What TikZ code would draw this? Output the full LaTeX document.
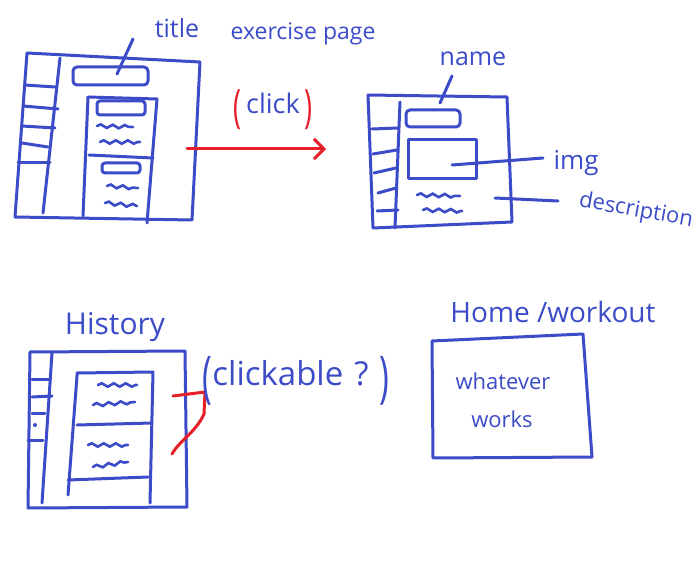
\documentclass[tikz,border=0pt]{standalone}
\usepackage{fontspec}
\setmainfont{Open Sans}
\usetikzlibrary{arrows.meta,decorations.pathmorphing}
\definecolor{pen}{RGB}{60,75,200}
\definecolor{redpen}{RGB}{230,30,40}
\tikzset{
 ink/.style={draw=pen, line width=3pt, line cap=round, line join=round},
 redink/.style={draw=redpen, line width=3pt, line cap=round, line join=round},
 wave/.style={draw=pen, line width=2.6pt, line cap=round, decorate, decoration={snake, amplitude=1.7pt, segment length=12pt}},
 lbl/.style={text=pen, inner sep=0pt},
}
\newcommand{\tallparen}[1]{\raisebox{-0.35em}{\scalebox{1}[1.7]{#1}}}
\begin{document}
\begin{tikzpicture}[x=1pt,y=-1pt]
\useasboundingbox[fill=white] (0,0) rectangle (696,564);

% ---------------- Screen 1 : list page ----------------
\draw[ink] (27,53) -- (200,62) -- (192,220) -- (15,217) -- cycle;
\draw[ink] (60,58) -- (43,213);
\draw[ink] (25,85) -- (55,87);
\draw[ink] (23,106) -- (58,109);
\draw[ink] (22,126) -- (55,128);
\draw[ink] (22,143) -- (48,147);
\draw[ink] (18,163) -- (50,163);
\draw[ink, rounded corners=4pt] (73,67) rectangle (148,85);
\draw[ink] (88,97) -- (157,99) -- (147,223);
\draw[ink] (88,97) -- (83,216);
\draw[ink] (89,155) -- (153,158);
\draw[ink, rounded corners=3pt] (97,101) rectangle (145,115);
\draw[wave] (97,126) -- (133,127);
\draw[wave] (100,142) -- (140,142);
\draw[ink, rounded corners=3pt] (102,163) rectangle (140,173);
\draw[wave] (107,186) -- (138,188);
\draw[wave] (105,203) -- (137,206);

\node[lbl, font=\fontsize{25}{25}\selectfont] (title) at (177,28) {title};
\coordinate (titleA) at (133,39);
\coordinate (titleB) at (117,74);
\draw[ink] (titleA) -- (titleB);

\node[lbl, font=\fontsize{23}{23}\selectfont] (exlbl) at (303,34) {exercise page};

% arrow with (click)
\coordinate (arrS) at (187,149);
\coordinate (arrE) at (326,149);
\draw[redink, -{Straight Barb[length=10pt,width=20pt]}] (arrS) -- (arrE);
\node[lbl, font=\fontsize{27}{27}\selectfont] (click) at (273,110)
  {\textcolor{redpen}{\tallparen{(}}\,click\,\textcolor{redpen}{\tallparen{)}}};

% ---------------- Screen 2 : exercise page ----------------
\draw[ink] (368,95) -- (507,97) -- (512,222) -- (373,228) -- cycle;
\draw[ink] (400,102) -- (395,228);
\draw[ink] (372,129) -- (398,128);
\draw[ink] (373,154) -- (397,150);
\draw[ink] (374,173) -- (396,168);
\draw[ink] (378,193) -- (396,188);
\draw[ink] (377,211) -- (398,210);
\draw[ink, rounded corners=4pt] (406,110) rectangle (460,127);
\draw[ink] (408,140) rectangle (476,179);
\draw[wave] (417,195) -- (460,196);
\draw[wave] (423,210) -- (462,211);

\node[lbl, font=\fontsize{25}{25}\selectfont] (name) at (473,59) {name};
\coordinate (nameA) at (452,76);
\coordinate (nameB) at (440,103);
\draw[ink] (nameA) -- (nameB);

\node[lbl, font=\fontsize{26}{26}\selectfont, anchor=base] (img) at (576,170) {img};
\coordinate (imgA) at (452,165);
\coordinate (imgB) at (543,158);
\draw[ink] (imgA) -- (imgB);

\node[lbl, font=\fontsize{22}{22}\selectfont, rotate=-10] (desc) at (636,211) {description};
\coordinate (descA) at (495,198);
\coordinate (descB) at (558,201);
\draw[ink] (descA) -- (descB);

% ---------------- Screen 3 : history ----------------
\node[lbl, font=\fontsize{30}{30}\selectfont] (hist) at (115,327) {History};
\draw[ink] (30,352) -- (185,351) -- (187,507) -- (28,508) -- cycle;
\draw[ink] (52,353) -- (42,503);
\draw[ink] (32,379) -- (50,379);
\draw[ink] (32,397) -- (52,396);
\draw[ink] (32,413) -- (45,413);
\draw[ink] (28,440) -- (43,440);
\fill[pen] (35,425) circle (2pt);
\draw[ink] (77,376) -- (77,373) -- (153,372) -- (150,503);
\draw[ink] (77,376) -- (68,495);
\draw[ink] (77,425) -- (152,423);
\draw[ink] (68,480) -- (148,477);
\draw[wave] (98,385) -- (137,385);
\draw[wave] (93,405) -- (135,402);
\draw[wave] (88,445) -- (128,445);
\draw[wave] (93,467) -- (128,462);

\coordinate (brA) at (173,396);
\coordinate (brB) at (172,454);
\draw[redink] (brA) -- (205,392) -- (204,414) .. controls (196,432) and (180,440) .. (brB);

\node[lbl, font=\fontsize{33}{33}\selectfont] (clickable) at (296,381)
  {\tallparen{(}clickable\,\,?\,\,\tallparen{)}};

% ---------------- Screen 4 : home / workout ----------------
\node[lbl, font=\fontsize{28}{28}\selectfont] (home) at (553,312) {Home /workout};
\draw[ink] (432,341) -- (583,334) -- (592,457) -- (433,458) -- cycle;
\node[lbl, font=\fontsize{22}{22}\selectfont] (what) at (503,381) {whatever};
\node[lbl, font=\fontsize{22}{22}\selectfont] (works) at (502,419) {works};
\end{tikzpicture}
\end{document}
